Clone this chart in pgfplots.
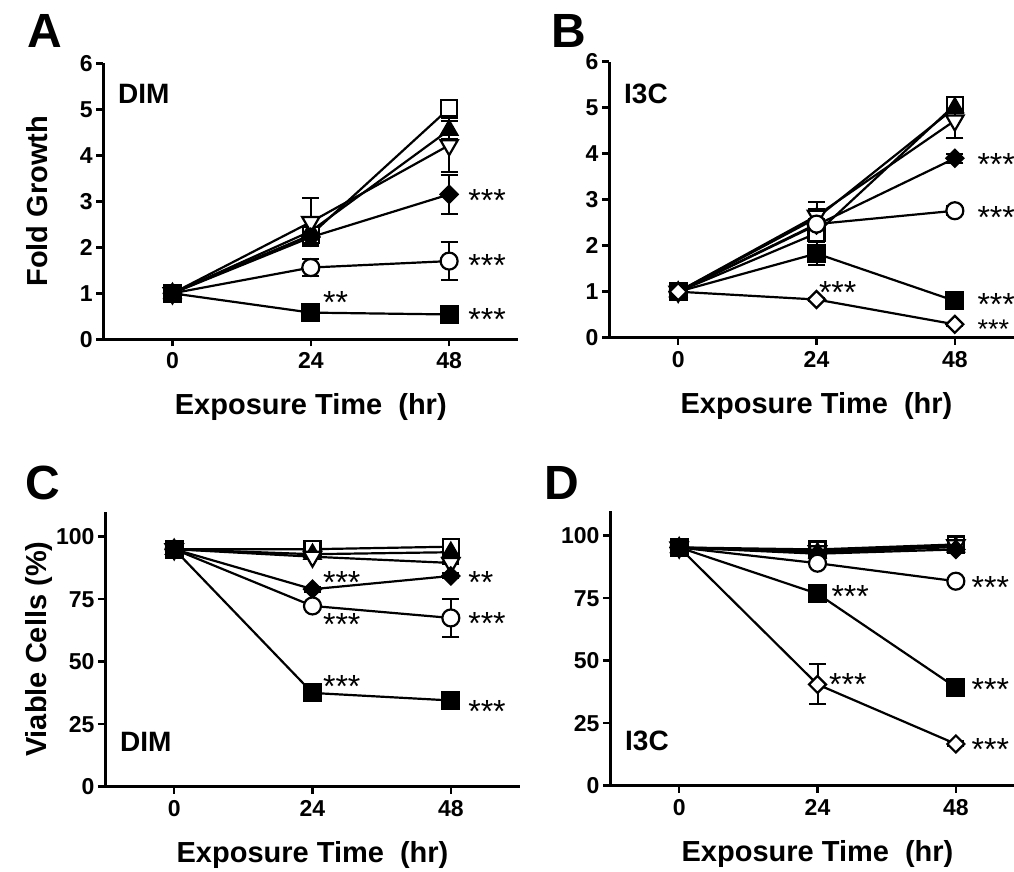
\documentclass[border=0pt]{standalone}
\usepackage{fontspec}
\setmainfont{Liberation Sans}
\usepackage{pgfplots}
\pgfplotsset{compat=1.18}
\newcommand{\fs}[1]{\fontsize{#1}{#1}\selectfont}
\tikzset{ast/.style={font=\fs{32}, inner sep=0pt, anchor=base west, yshift=-18pt}}
\pgfplotsset{
 panel/.style={scale only axis, width=415pt, xmin=-12, xmax=60, xtick={0,24,48}, ymin=0,
  axis x line=bottom, axis y line=left, axis line style={-, line width=3pt},
  tick style={line width=2.5pt, black}, major tick length=7pt, tick align=outside,
  ticklabel style={font=\bfseries\fs{23}}, /pgf/number format/assume math mode=true,
  xticklabel style={yshift=-3pt},
  xlabel={Exposure Time\ \ (hr)},
  xlabel style={font=\bfseries\fs{29}, at={(axis description cs:0.5,0)}, anchor=center, yshift=-68pt},
  ylabel style={font=\bfseries\fs{29}, at={(axis description cs:-0.16,0.5)}, anchor=center},
  clip=false,
  every axis plot/.append style={line width=2.2pt, black, mark options={solid, line width=2pt},
   error bars/y dir=both, error bars/y explicit,
   error bars/error bar style={line width=2pt},
   error bars/error mark options={rotate=90, mark size=8.5pt, line width=2pt}},
 },
 fold/.style={panel, height=276pt, ymax=6, ytick={0,...,6}},
 via/.style={panel, height=275pt, ymax=110, ytick={0,25,50,75,100}},
 osq/.style={mark=square*, mark size=8pt, mark options={fill=white}},
 tri/.style={mark=triangle*, mark size=9.5pt},
 dtri/.style={mark=triangle*, mark size=10pt, mark options={rotate=180, fill=white}},
 dia/.style={mark=square*, mark size=6pt, mark options={rotate=45}},
 circ/.style={mark=*, mark size=8.5pt, mark options={fill=white}},
 fsq/.style={mark=square*, mark size=8.5pt},
 odia/.style={mark=square*, mark size=6pt, mark options={rotate=45, fill=white}},
}
\begin{document}
\begin{tikzpicture}
\useasboundingbox (0,0) rectangle (1014pt,871pt);
% Panel A
\begin{axis}[fold, at={(103.3pt,531.7pt)}, anchor=south west, ylabel={Fold Growth}]
\addplot[osq] table[y error=e] {
x y e
0 1 0
24 2.27 0.15
48 5.02 0.1
};
\addplot[tri] table[y error=e] {
x y e
0 1 0
24 2.35 0.3
48 4.55 0.2
};
\addplot[dtri] table[y error=e] {
x y e
0 1 0
24 2.55 0.53
48 4.22 0.58
};
\addplot[dia] table[y error=e] {
x y e
0 1 0
24 2.22 0.15
48 3.15 0.43
};
\addplot[circ] table[y error=e] {
x y e
0 1 0
24 1.56 0.18
48 1.70 0.42
};
\addplot[fsq] table[y error=e] {
x y e
0 1 0
24 0.58 0.04
48 0.54 0.04
};
\node[ast] at (axis cs:26.1,0.96) {**};
\node[ast] at (axis cs:51.3,3.16) {***};
\node[ast] at (axis cs:51.3,1.75) {***};
\node[ast] at (axis cs:51.3,0.58) {***};
\end{axis}
% Panel B
\begin{axis}[fold, at={(609pt,533.3pt)}, anchor=south west]
\addplot[osq] table[y error=e] {
x y e
0 1 0
24 2.27 0.15
48 5.06 0.1
};
\addplot[tri] table[y error=e] {
x y e
0 1 0
24 2.6 0.2
48 5.0 0.1
};
\addplot[dtri] table[y error=e] {
x y e
0 1 0
24 2.65 0.3
48 4.72 0.38
};
\addplot[dia] table[y error=e] {
x y e
0 1 0
24 2.45 0.1
48 3.9 0.1
};
\addplot[circ] table[y error=e] {
x y e
0 1 0
24 2.47 0.1
48 2.76 0.1
};
\addplot[fsq] table[y error=e] {
x y e
0 1 0
24 1.83 0.25
48 0.80 0.05
};
\addplot[odia] table[y error=e] {
x y e
0 1 0
24 0.83 0.04
48 0.29 0.04
};
\node[ast] at (axis cs:24.4,1.14) {***};
\node[ast] at (axis cs:51.9,3.91) {***};
\node[ast] at (axis cs:51.9,2.76) {***};
\node[ast] at (axis cs:51.9,0.88) {***};
\node[ast, font=\fs{27}, yshift=2pt] at (axis cs:51.9,0.33) {***};
\end{axis}
% Panel C
\begin{axis}[via, at={(105pt,84.3pt)}, anchor=south west, ylabel={Viable Cells (\%)}]
\addplot[osq] table[y error=e] {
x y e
0 95 0
24 95 0.5
48 96 0.5
};
\addplot[tri] table[y error=e] {
x y e
0 95 0
24 93 0.5
48 93.8 0.5
};
\addplot[dtri] table[y error=e] {
x y e
0 95 0
24 92 0.5
48 89.5 0.5
};
\addplot[dia] table[y error=e] {
x y e
0 95 0
24 79 1
48 84.3 1
};
\addplot[circ] table[y error=e] {
x y e
0 95 0
24 72.3 1
48 67.5 7.5
};
\addplot[fsq] table[y error=e] {
x y e
0 95 0
24 37.5 1
48 34.5 1
};
\node[ast] at (axis cs:25.8,84.3) {***};
\node[ast] at (axis cs:25.8,67.5) {***};
\node[ast] at (axis cs:25.8,43) {***};
\node[ast] at (axis cs:51.0,84.3) {**};
\node[ast] at (axis cs:51.0,68) {***};
\node[ast] at (axis cs:51.0,32.7) {***};
\end{axis}
% Panel D
\begin{axis}[via, at={(610pt,85.3pt)}, anchor=south west]
\addplot[osq] table[y error=e] {
x y e
0 95.3 0
24 94.5 0.5
48 96.5 0.5
};
\addplot[tri] table[y error=e] {
x y e
0 95.3 0
24 93.2 0.5
48 95.5 0.5
};
\addplot[dtri] table[y error=e] {
x y e
0 95.3 0
24 93.8 0.5
48 96.2 0.5
};
\addplot[dia] table[y error=e] {
x y e
0 95.3 0
24 92.8 0.5
48 94.5 0.5
};
\addplot[circ] table[y error=e] {
x y e
0 95.3 0
24 89 1
48 81.8 1
};
\addplot[odia] table[y error=e] {
x y e
0 95.3 0
24 40.5 8
48 16.7 1
};
\addplot[fsq] table[y error=e] {
x y e
0 95.3 0
24 76.8 1
48 39.3 1
};
\node[ast] at (axis cs:26.4,78.5) {***};
\node[ast] at (axis cs:26.0,43.1) {***};
\node[ast] at (axis cs:50.7,82) {***};
\node[ast] at (axis cs:50.7,41.1) {***};
\node[ast] at (axis cs:50.7,17.2) {***};
\end{axis}
% labels
\node[font=\bfseries\fs{48}, anchor=base west, inner sep=0pt] at (27pt,823pt) {A};
\node[font=\bfseries\fs{48}, anchor=base west, inner sep=0pt] at (551pt,823pt) {B};
\node[font=\bfseries\fs{48}, anchor=base west, inner sep=0pt] at (25pt,372pt) {C};
\node[font=\bfseries\fs{48}, anchor=base west, inner sep=0pt] at (544pt,372pt) {D};
\node[font=\bfseries\fs{28}, anchor=base west, inner sep=0pt] at (118pt,767pt) {DIM};
\node[font=\bfseries\fs{28}, anchor=base west, inner sep=0pt] at (624pt,767pt) {I3C};
\node[font=\bfseries\fs{28}, anchor=base west, inner sep=0pt] at (120pt,119.3pt) {DIM};
\node[font=\bfseries\fs{28}, anchor=base west, inner sep=0pt] at (625pt,121pt) {I3C};
\end{tikzpicture}
\end{document}
